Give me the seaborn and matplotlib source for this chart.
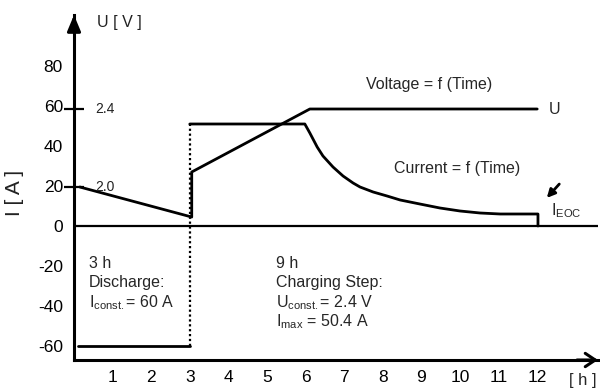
import numpy as np
import pandas as pd
import matplotlib
matplotlib.use("Agg")
import matplotlib.pyplot as plt
import matplotlib.transforms as mtransforms
import seaborn as sns

# ---------------- data ----------------
x_ticks = [1, 2, 3, 4, 5, 6, 7, 8, 9, 10, 11, 12]
y_ticks = [-60, -40, -20, 0, 20, 40, 60, 80]
u_ticks = [2.0, 2.4]
u_tick_labels = ["2.0", "2.4"]

# Voltage (V) vs time (h)
volt_t = [0.15, 3.05, 3.05, 6.11, 12.0]
volt_u = [2.0, 1.846, 2.077, 2.4, 2.4]

# Current (A) vs time (h): discharge, dotted switch, charging
dis_t = [0.1, 3.0]
dis_i = [-60, -60]
switch_t = [3.0, 3.0]
switch_i = [-60, 51]
chg_t = [3.0, 5.98, 6.11, 6.30, 6.45, 6.71, 6.97, 7.23, 7.41, 7.75, 8.11, 8.45,
         8.96, 9.48, 10.0, 10.52, 11.04, 12.02, 12.02]
chg_i = [51, 51, 46.5, 39.5, 35, 29.5, 25, 21.5, 19.5, 17, 15, 13,
         11, 9, 7.5, 6.5, 6, 6, 0]

# ---------------- style ----------------
sns.set_theme(style="white")
plt.rcParams['font.family'] = ['Liberation Sans', 'DejaVu Sans']
plt.rcParams['mathtext.fontset'] = 'custom'
plt.rcParams['mathtext.rm'] = 'Liberation Sans'
plt.rcParams['mathtext.it'] = 'Liberation Sans'

W, H = 600, 389
fig = plt.figure(figsize=(W / 100, H / 100), dpi=100)
ax_left, ax_right, ax_top, ax_bot = 74, 598, 15, 360
ax = fig.add_axes([ax_left / W, (H - ax_bot) / H, (ax_right - ax_left) / W, (ax_bot - ax_top) / H])

px_per_h = 38.6
zero_px = 226
px_per_unit = 2.0
ax.set_xlim(0, (ax_right - ax_left) / px_per_h)
ax.set_ylim(-(ax_bot - zero_px) / px_per_unit, (zero_px - ax_top) / px_per_unit)

# voltage axis mapping: 2.0 V <-> 19.5 units, 2.4 V <-> 58.5 units
i_at_2v, i_per_v = 19.5, 97.5
lo, hi = ax.get_ylim()
ax2 = ax.twinx()
ax2.set_ylim(2.0 + (lo - i_at_2v) / i_per_v, 2.0 + (hi - i_at_2v) / i_per_v)

lw = 2.0
# zero line
ax.axhline(0, color='black', lw=1.6, zorder=1)

# current
sns.lineplot(x=dis_t, y=dis_i, ax=ax, estimator=None, sort=False, color='black', lw=lw)
sns.lineplot(x=switch_t, y=switch_i, ax=ax, estimator=None, sort=False, color='black', lw=1.6,
             linestyle=(0, (1, 1.2)))
sns.lineplot(x=chg_t, y=chg_i, ax=ax, estimator=None, sort=False, color='black', lw=lw)
# voltage
sns.lineplot(x=volt_t, y=volt_u, ax=ax2, estimator=None, sort=False, color='black', lw=lw)

# axes styling
for s in ['top', 'right']:
    ax.spines[s].set_visible(False)
for s in ['left', 'bottom']:
    ax.spines[s].set_color('black')
    ax.spines[s].set_linewidth(2.2)
for s in ax2.spines.values():
    s.set_visible(False)

ax.set_xticks(x_ticks)
ax.set_xticklabels([str(v) for v in x_ticks])
ax.set_yticks(y_ticks)
ax.set_yticklabels([str(v) for v in y_ticks])
ax.tick_params(axis='both', length=0, labelsize=12.5, colors='black')
ax.tick_params(axis='x', pad=7)
ax.tick_params(axis='y', pad=8)
ax.set_xlabel('')
ax.set_ylabel('')

ax2.yaxis.set_ticks_position('left')
ax2.set_yticks(u_ticks)
ax2.tick_params(axis='y', direction='inout', length=14, width=1.6, color='black',
                labelleft=False, labelright=False, left=True, right=False)
ax2.set_ylabel('')
trans2 = mtransforms.blended_transform_factory(ax2.transAxes, ax2.transData)
for u, lab in zip(u_ticks, u_tick_labels):
    ax2.text(0.040, u, lab, transform=trans2, fontsize=10, ha='left', va='center', color='#222222')

# axis arrows
ax.annotate('', xy=(0, 1.0), xytext=(0, 0.95), xycoords='axes fraction',
            arrowprops=dict(arrowstyle='-|>,head_length=0.6,head_width=0.25', color='black', lw=2.2,
                            mutation_scale=16, shrinkA=0, shrinkB=0), annotation_clip=False)
ax.annotate('', xy=(1.0, 0), xytext=(0.96, 0), xycoords='axes fraction',
            arrowprops=dict(arrowstyle='->,head_length=0.45,head_width=0.3', color='black', lw=2.2,
                            mutation_scale=16, shrinkA=0, shrinkB=0), annotation_clip=False)

# axis titles
fig.text(97 / W, 1 - 22 / H, 'U [ V ]', fontsize=11.5, ha='left', va='center', color='#222222')
fig.text(14 / W, 1 - 193 / H, 'I [ A ]', fontsize=15, rotation=90, ha='center', va='center', color='#222222')
transx = mtransforms.blended_transform_factory(ax.transData, ax.transAxes)
ax.text(12.82, -(380 - ax_bot) / (ax_bot - ax_top), '[ h ]', transform=transx, fontsize=12,
        ha='left', va='center', clip_on=False)

# annotations
fs = 11.5
ax.text(9.2, 70.5, 'Voltage = f (Time)', fontsize=fs, ha='center', va='center')
ax.text(12.3, 58, 'U', fontsize=fs, ha='left', va='center')
ax.text(9.92, 29, 'Current = f (Time)', fontsize=fs, ha='center', va='center')
ax.text(12.35, 7.5, r'I$_{\mathrm{EOC}}$', fontsize=fs, ha='left', va='center')
ax.annotate('', xy=(12.2, 13), xytext=(12.62, 22),
            arrowprops=dict(arrowstyle='-|>', color='black', lw=2, mutation_scale=12))

ax.text(0.39, -18.5, '3 h', fontsize=fs, ha='left', va='center')
ax.text(0.39, -28, 'Discharge:', fontsize=fs, ha='left', va='center')
ax.text(0.39, -38.5, r'I$_{\mathrm{const.}}$= 60 A', fontsize=fs, ha='left', va='center')

ax.text(5.23, -18.5, '9 h', fontsize=fs, ha='left', va='center')
ax.text(5.23, -28, 'Charging Step:', fontsize=fs, ha='left', va='center')
ax.text(5.23, -38.5, r'U$_{\mathrm{const.}}$= 2.4 V', fontsize=fs, ha='left', va='center')
ax.text(5.23, -48, r'I$_{\mathrm{max}}$ = 50.4 A', fontsize=fs, ha='left', va='center')

fig.savefig('out.png', dpi=100)
